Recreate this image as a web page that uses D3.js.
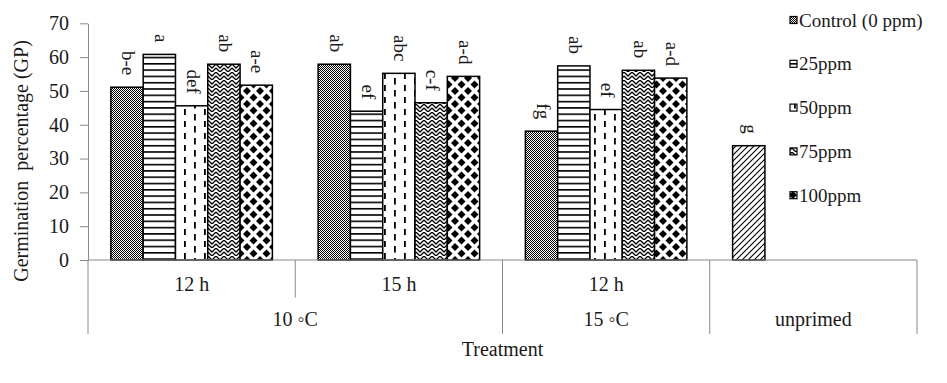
<!DOCTYPE html>
<html><head><meta charset="utf-8">
<script src="https://cdn.jsdelivr.net/npm/d3@7/dist/d3.min.js"></script>
<style>
body{margin:0;background:#fff}
text{font-family:"Liberation Serif","Times New Roman",serif;fill:#1a1a1a}
</style>
</head><body>
<svg id="chart" width="947" height="383"></svg>
<script>
// ---- data ----
const categories = ["10C-12h","10C-15h","15C-12h","unprimed"];
const subLabels = ["12 h","15 h","12 h",""];
const groupLabels = ["10 ◦C","15 ◦C","unprimed"];
const groupSpans = [[0,1],[2,2],[3,3]];
const series = ["Control (0 ppm)","25ppm","50ppm","75ppm","100ppm"];
const control = [51.1, 57.9, 38.1];
const ppm25   = [60.8, 44.0, 57.4];
const ppm50   = [45.6, 55.2, 44.5];
const ppm75   = [57.9, 46.5, 56.1];
const ppm100  = [51.7, 54.3, 53.8];
const unprimed = [33.8];
const lblControl = ["b-e","ab","fg"];
const lbl25 = ["a","ef","ab"];
const lbl50 = ["def","abc","ef"];
const lbl75 = ["ab","c-f","ab"];
const lbl100 = ["a-e","a-d","a-d"];
const lblUnprimed = ["g"];
const yTicks = [0,10,20,30,40,50,60,70];
const yTitle = "Germination  percentage (GP)";
const xTitle = "Treatment";

const seriesValues = [control, ppm25, ppm50, ppm75, ppm100];
const seriesLabels = [lblControl, lbl25, lbl50, lbl75, lbl100];
const patternIds = ["pCtrl","p25","p50","p75","p100"];

// ---- layout ----
const svg = d3.select("#chart");
const mLeft = 88, mRight = 917, mTop = 23.3, mBottom = 260, catBottom = 334;
const x0 = d3.scaleBand().domain(categories).range([mLeft, mRight]).paddingInner(0).paddingOuter(0);
const x1 = d3.scaleBand().domain(series).range([0, x0.bandwidth()]).paddingInner(0).paddingOuter(0.708);
const y = d3.scaleLinear().domain([0,70]).range([mBottom, mTop]);

// ---- patterns ----
const defs = svg.append("defs");
function pat(id,w,h){ return defs.append("pattern").attr("id",id).attr("patternUnits","userSpaceOnUse").attr("width",w).attr("height",h); }
let p = pat("pCtrl",2,2);
p.append("rect").attr("width",2).attr("height",2).attr("fill","#fff");
p.append("rect").attr("x",0).attr("y",0).attr("width",1).attr("height",1).attr("fill","#000");
p.append("rect").attr("x",1).attr("y",1).attr("width",1).attr("height",1).attr("fill","#000");
p = pat("p25",6,6.3);
p.append("rect").attr("width",6).attr("height",6.3).attr("fill","#fff");
p.append("rect").attr("x",0).attr("y",0).attr("width",6).attr("height",1.6).attr("fill","#000");
p = pat("p50",20,12);
p.append("rect").attr("width",20).attr("height",12).attr("fill","#fff");
p.append("rect").attr("x",4).attr("y",1).attr("width",1.8).attr("height",6).attr("fill","#000");
p.append("rect").attr("x",14).attr("y",6).attr("width",1.8).attr("height",6).attr("fill","#000");
p.append("rect").attr("x",14).attr("y",0).attr("width",1.8).attr("height",0.5).attr("fill","#000");
p = pat("p75",8,8);
p.append("rect").attr("width",8).attr("height",8).attr("fill","#fff");
p.append("path").attr("d","M0,0 L4,4 L8,0 M0,4 L4,8 L8,4").attr("stroke","#000").attr("stroke-width",1.3).attr("fill","none");
p = pat("p100",13,13);
p.append("rect").attr("width",13).attr("height",13).attr("fill","#fff");
p.append("path").attr("d","M6.5,2.5 L10.5,6.5 L6.5,10.5 L2.5,6.5Z M0,-4 L4,0 L0,4 L-4,0Z M13,-4 L17,0 L13,4 L9,0Z M0,9 L4,13 L0,17 L-4,13Z M13,9 L17,13 L13,17 L9,13Z").attr("fill","#000");
p = pat("pDiag",6,6);
p.append("rect").attr("width",6).attr("height",6).attr("fill","#fff");
p.append("path").attr("d","M-1,1 L1,-1 M0,6 L6,0 M5,7 L7,5").attr("stroke","#000").attr("stroke-width",1.1);

// ---- bars ----
const barData = [];
seriesValues.forEach((vals,si)=>{
  vals.forEach((v,ci)=>{
    barData.push({cat:categories[ci], s:series[si], v, lbl:seriesLabels[si][ci], fill:patternIds[si]});
  });
});
barData.push({cat:categories[3], s:series[0], v:unprimed[0], lbl:lblUnprimed[0], fill:"pDiag"});

svg.append("g").selectAll("rect").data(barData).join("rect")
  .attr("x",d=>x0(d.cat)+x1(d.s))
  .attr("y",d=>y(d.v))
  .attr("width",x1.bandwidth())
  .attr("height",d=>y(0)-y(d.v))
  .attr("fill",d=>`url(#${d.fill})`)
  .attr("stroke","#000").attr("stroke-width",1.5);

// labels
svg.append("g").selectAll("text").data(barData).join("text")
  .attr("transform",d=>`translate(${x0(d.cat)+x1(d.s)+x1.bandwidth()/2},${y(d.v)-12}) rotate(90)`)
  .attr("text-anchor","end")
  .attr("dy","0.25em")
  .style("font-size","19px")
  .text(d=>d.lbl);

// ---- axes ----
const axisColor = "#8a8a8a";
const yAxis = svg.append("g").attr("transform",`translate(${mLeft},0)`)
  .call(d3.axisLeft(y).tickValues(yTicks).tickSize(8).tickSizeOuter(0).tickPadding(11));
yAxis.select(".domain").attr("stroke",axisColor);
yAxis.selectAll(".tick line").attr("stroke",axisColor);
yAxis.selectAll(".tick text").style("font-size","20px").style("font-family",'"Liberation Serif",serif').attr("fill","#1a1a1a");

// x axis line
svg.append("line").attr("x1",mLeft).attr("x2",mRight).attr("y1",y(0)).attr("y2",y(0)).attr("stroke",axisColor);
// category separators
const bounds = categories.map(c=>x0(c)).concat([mRight]);
const fullSeps = new Set([0, ...groupSpans.map(g=>g[1]+1)]);
bounds.forEach((bx,i)=>{
  svg.append("line").attr("x1",bx).attr("x2",bx).attr("y1",y(0))
    .attr("y2", fullSeps.has(i) ? catBottom : 297.5).attr("stroke",axisColor);
});
// level-1 labels
svg.append("g").selectAll("text").data(categories.filter((c,i)=>subLabels[i])).join("text")
  .attr("x",c=>x0(c)+x0.bandwidth()/2).attr("y",291)
  .attr("text-anchor","middle").style("font-size","20px")
  .text(c=>subLabels[categories.indexOf(c)]);
// level-2 labels
svg.append("g").selectAll("text").data(groupLabels).join("text")
  .attr("x",(g,i)=>(x0(categories[groupSpans[i][0]]) + x0(categories[groupSpans[i][1]]) + x0.bandwidth())/2)
  .attr("y",326)
  .attr("text-anchor","middle").style("font-size","20px")
  .text(g=>g);

// titles
svg.append("text").attr("x",(mLeft+mRight)/2).attr("y",356).attr("text-anchor","middle")
  .style("font-size","20px").text(xTitle);
svg.append("text").attr("transform","translate(28,161) rotate(-90)").attr("text-anchor","middle")
  .style("font-size","20px").style("white-space","pre").text(yTitle);

// ---- legend ----
const leg = svg.append("g");
series.forEach((s,i)=>{
  const cy = 20 + i*43.8;
  leg.append("rect").attr("x",790).attr("y",cy-3.5).attr("width",7).attr("height",7)
    .attr("fill",`url(#${patternIds[i]})`).attr("stroke","#000").attr("stroke-width",1.2);
  leg.append("text").attr("x",799).attr("y",cy+6.5).style("font-size","19px").text(s);
});
</script>
</body></html>
